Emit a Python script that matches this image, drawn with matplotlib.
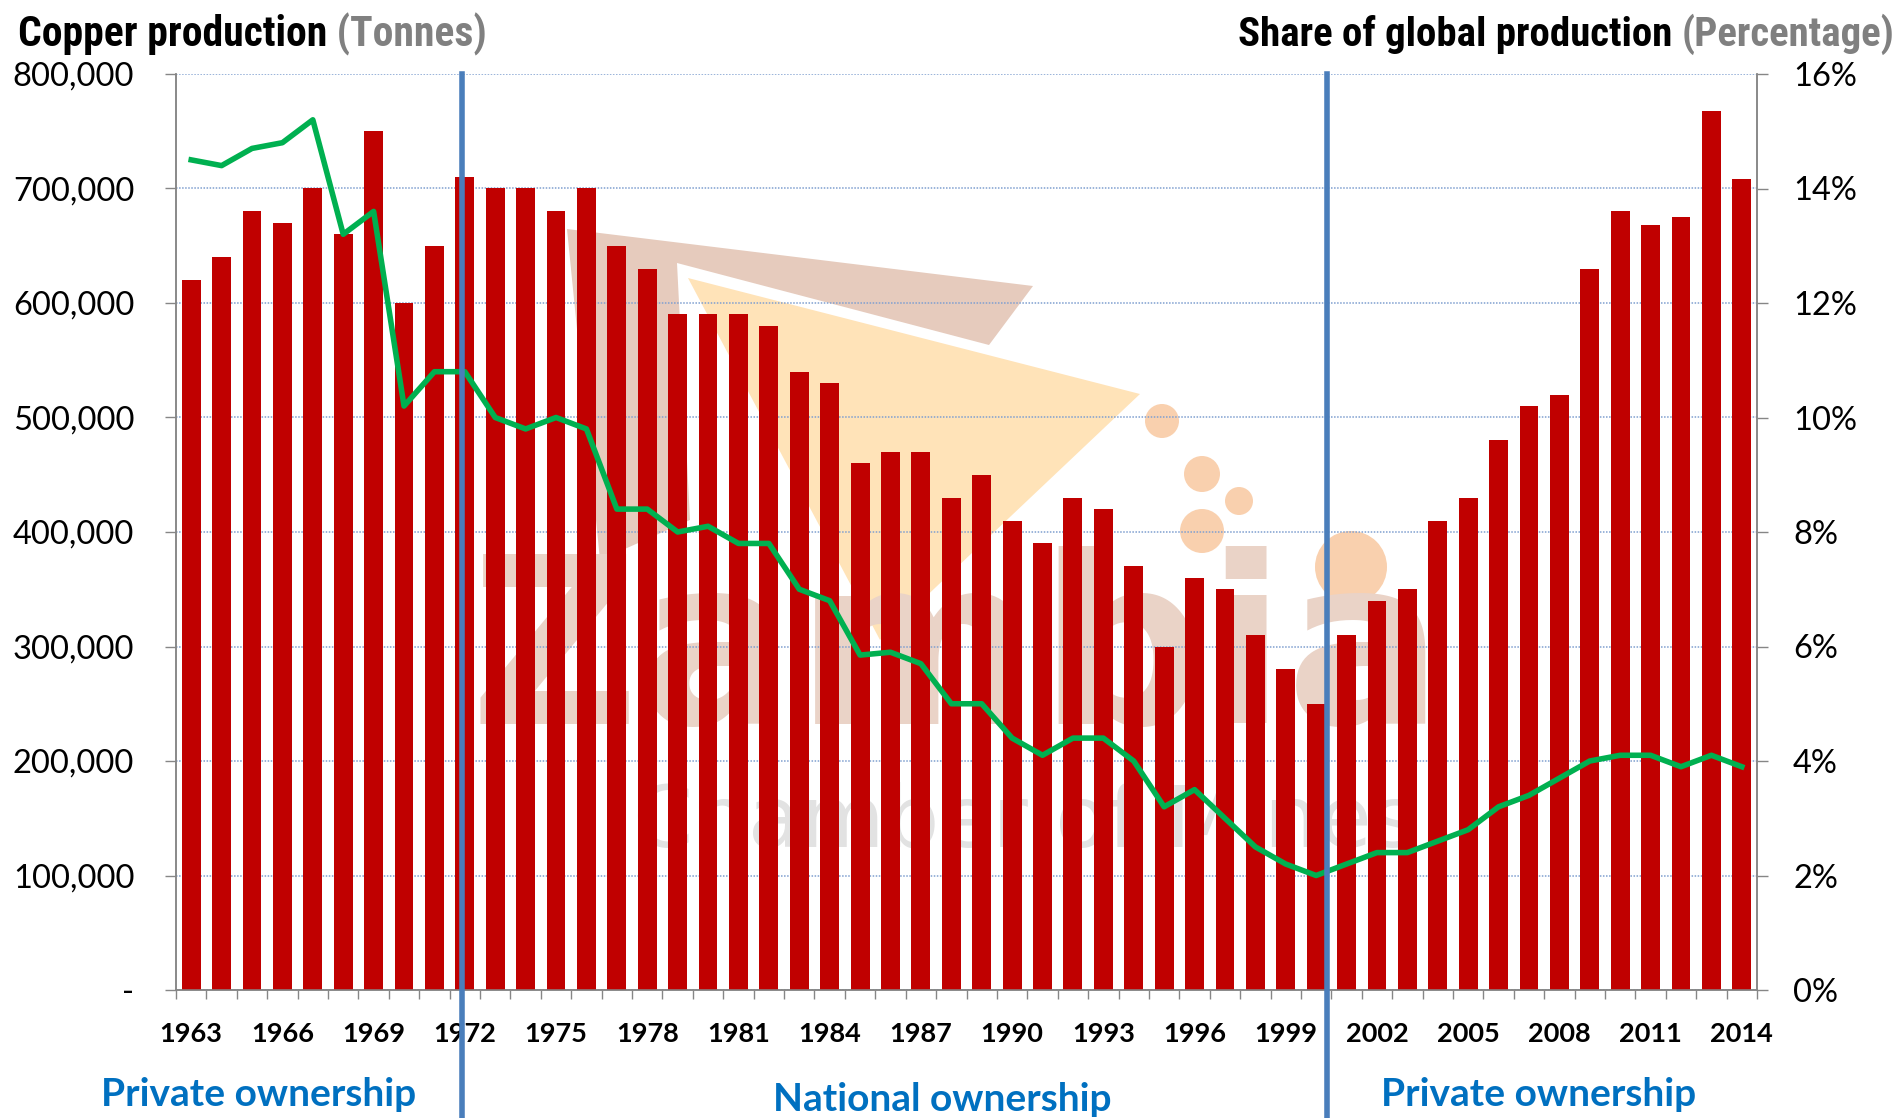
import matplotlib
matplotlib.use("Agg")
import matplotlib.pyplot as plt
from matplotlib import font_manager
from matplotlib.patches import Polygon, Circle
from matplotlib.ticker import FixedLocator, FuncFormatter

years = list(range(1963, 2015))
production = [620000, 640000, 680000, 670000, 700000, 660000, 750000, 600000, 650000, 710000,
              700000, 700000, 680000, 700000, 650000, 630000, 590000, 590000, 590000, 580000,
              540000, 530000, 460000, 470000, 470000, 430000, 450000, 410000, 390000, 430000,
              420000, 370000, 300000, 360000, 350000, 310000, 280000, 250000, 310000, 340000,
              350000, 410000, 430000, 480000, 510000, 520000, 630000, 680000, 668000, 675000,
              768000, 708000]
share = [14.5, 14.4, 14.7, 14.8, 15.2, 13.2, 13.6, 10.2, 10.8, 10.8,
         10.0, 9.8, 10.0, 9.8, 8.4, 8.4, 8.0, 8.1, 7.8, 7.8,
         7.0, 6.8, 5.85, 5.9, 5.7, 5.0, 5.0, 4.4, 4.1, 4.4,
         4.4, 4.0, 3.2, 3.5, 3.0, 2.5, 2.2, 2.0, 2.2, 2.4,
         2.4, 2.6, 2.8, 3.2, 3.4, 3.7, 4.0, 4.1, 4.1, 3.9,
         4.1, 3.9]
label_years = years[::3]
period_breaks = [1971.9, 2000.35]
periods = ["Private ownership", "National ownership", "Private ownership"]

W, H = 1904, 1118
fig = plt.figure(figsize=(W / 100, H / 100), dpi=100)
renderer = fig.canvas.get_renderer()

# faint watermark logo behind the chart (pixel coordinates)
bg = fig.add_axes([0, 0, 1, 1], zorder=0)
bg.set_xlim(0, W)
bg.set_ylim(H, 0)
bg.axis("off")
bg.add_patch(Polygon([(567, 229), (1033, 286), (989, 345), (677, 263), (690, 520), (600, 560)],
                     closed=True, color="#E6CBBD", lw=0))
bg.add_patch(Polygon([(688, 278), (1140, 394), (880, 640)], closed=True, color="#FFE3B8", lw=0))
for cx, cy, r in [(1162, 421, 17), (1202, 474, 18), (1239, 501, 14), (1202, 531, 22), (1351, 567, 36)]:
    bg.add_patch(Circle((cx, cy), r, color="#F9D0AE", lw=0))
bg.text(470, 724, "Zambia", fontsize=168, fontweight="bold", color="#EAD3C7",
        ha="left", va="baseline", family="DejaVu Sans")
bg.text(633, 846, "Chamber of Mines", fontsize=62, color="#E2E2E2",
        ha="left", va="baseline", family="DejaVu Sans")

ax = fig.add_axes([176 / W, 1 - 990 / H, (1757 - 176) / W, (990 - 74) / H], zorder=1)
ax.set_facecolor("none")
ax.bar(years, production, width=0.62, color="#C00000", zorder=3)
ax.set_xlim(years[0] - 0.5, years[-1] + 0.5)
ax.set_ylim(0, 800000)
ax.set_yticks(range(0, 800001, 100000))
ax.yaxis.set_major_formatter(FuncFormatter(lambda v, p: "-" if v == 0 else f"{int(v):,}"))
ax.yaxis.grid(True, color="#7F9FD0", lw=1.1, linestyle=(0, (1, 1)), zorder=0)
ax.set_axisbelow(True)

ax.xaxis.set_major_locator(FixedLocator(label_years))
ax.xaxis.set_minor_locator(FixedLocator([y - 0.5 for y in years] + [years[-1] + 0.5]))
ax.tick_params(axis="x", which="major", length=0, pad=23, labelsize=19.5)
ax.tick_params(axis="x", which="minor", length=6.5, width=1, color="#868686", direction="out")
for t in ax.get_xticklabels():
    t.set_fontfamily("Lato")
    t.set_fontweight("bold")
ax.tick_params(axis="y", length=8, width=1, color="#868686", pad=22, labelsize=23.5)
for t in ax.get_yticklabels():
    t.set_fontfamily("Lato")

for side in ["left", "right", "bottom"]:
    ax.spines[side].set_color("#868686")
    ax.spines[side].set_linewidth(1.1)
ax.spines["top"].set_visible(False)

ax2 = ax.twinx()
ax2.set_zorder(2)
ax2.plot(years, share, color="#00B050", lw=4, zorder=4)
ax2.set_ylim(0, 16)
ax2.set_yticks(range(0, 17, 2))
ax2.yaxis.set_major_formatter(FuncFormatter(lambda v, p: f"{int(v)}%"))
ax2.tick_params(axis="y", length=8, width=1, color="#868686", pad=18, labelsize=23.5)
for t in ax2.get_yticklabels():
    t.set_fontfamily("Lato")
for side in ["left", "right", "bottom"]:
    ax2.spines[side].set_color("#868686")
    ax2.spines[side].set_linewidth(1.1)
ax2.spines["top"].set_visible(False)

# ownership period dividers
for xb in period_breaks:
    ax2.plot([xb, xb], [-0.2, 1], transform=ax2.get_xaxis_transform(),
             color="#4A7EBB", lw=4, clip_on=False, zorder=5)

# period labels under the axis
for (cx, by), name in zip([(213 / 0.8235, 1106), (776 / 0.8235, 1111), (1267 / 0.8235, 1106)], periods):
    fig.text(cx / W, 1 - by / H, name, ha="center", va="baseline", fontsize=28,
             fontweight="bold", color="#0070C0", family="Lato")

# titles: narrow bold face if there is one, sized to the reference width
names = {f.name for f in font_manager.fontManager.ttflist}
title_family = "Liberation Sans"
for cand in ["Liberation Sans Narrow", "Arial Narrow", "Roboto Condensed", "Open Sans Condensed"]:
    if cand in names:
        title_family = cand
        break


def two_part_title(x, y, dark, grey, width, align):
    size = 32
    for _ in range(2):
        a = fig.text(0, 0, dark, fontsize=size, fontweight="bold", family=title_family)
        b = fig.text(0, 0, grey, fontsize=size, fontweight="bold", family=title_family)
        total = a.get_window_extent(renderer).width + b.get_window_extent(renderer).width
        a.remove()
        b.remove()
        if total <= width:
            break
        size = size * width / total
    kw = dict(fontsize=size, fontweight="bold", family=title_family, va="baseline")
    if align == "left":
        t = fig.text(x / W, 1 - y / H, dark, ha="left", color="black", **kw)
        bb = t.get_window_extent(renderer)
        fig.text(bb.x1 / W, 1 - y / H, grey, ha="left", color="#808080", **kw)
    else:
        t = fig.text(x / W, 1 - y / H, grey, ha="right", color="#808080", **kw)
        bb = t.get_window_extent(renderer)
        fig.text(bb.x0 / W, 1 - y / H, dark, ha="right", color="black", **kw)


two_part_title(18, 46, "Copper production", " (Tonnes)", 469, "left")
two_part_title(1894, 46, "Share of global production ", "(Percentage)", 658, "right")

fig.savefig("out.png", dpi=100)
